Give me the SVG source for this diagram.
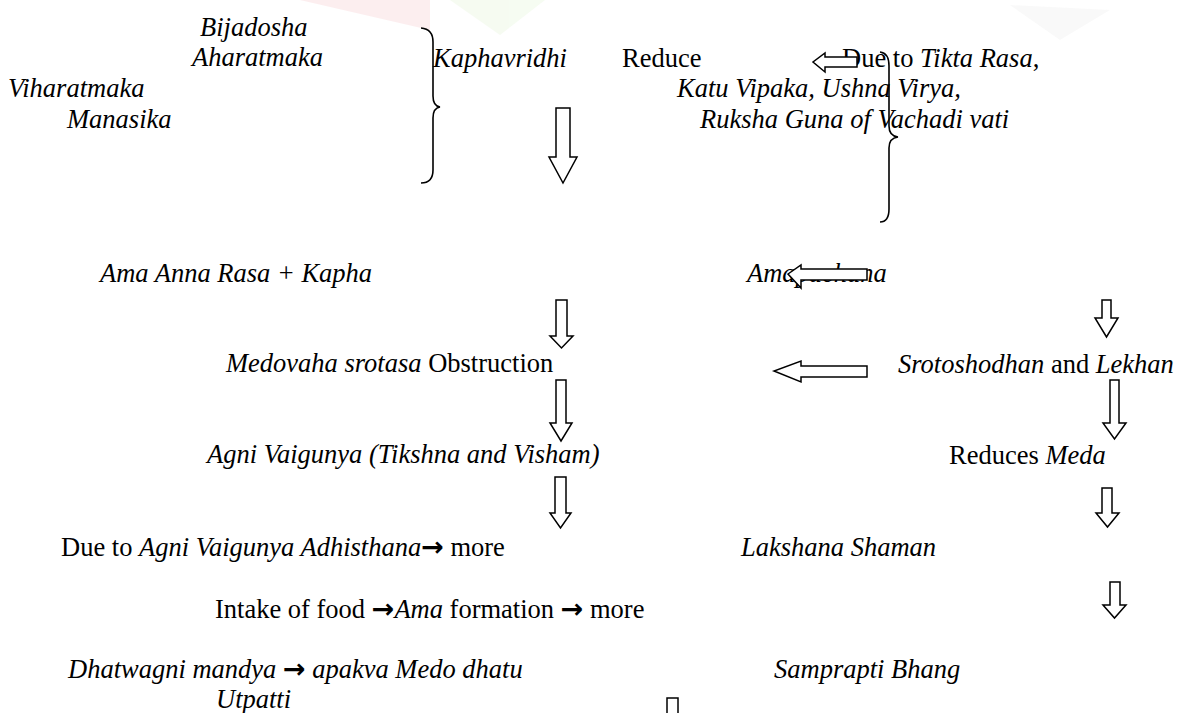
<svg xmlns="http://www.w3.org/2000/svg" width="1177" height="713" viewBox="0 0 1177 713">
<style>
text{font-family:"Liberation Serif","Times New Roman",serif;font-size:26.5px;fill:#000}
.i{font-style:italic}
.u{font-style:normal}
.ar{font-family:"DejaVu Sans",sans-serif;font-style:normal;font-weight:bold;font-size:27px}
.arr{fill:#fff;stroke:#000;stroke-width:1.5;stroke-linejoin:miter}
.br{fill:none;stroke:#000;stroke-width:1.6}
</style>
<rect width="1177" height="713" fill="#fff"/>
<g id="watermark" opacity="0.22">
<polygon points="300,0 430,0 430,30" fill="#f6b3b8"/>
<polygon points="450,0 545,0 500,35" fill="#d8f0c4"/>
<polygon points="1010,5 1110,10 1060,40" fill="#e2e2e2"/>
</g>
<g id="causes">
<text class="i" x="200" y="36">Bijadosha</text>
<text class="i" x="192" y="66">Aharatmaka</text>
<text class="i" x="8" y="97">Viharatmaka</text>
<text class="i" x="67" y="128">Manasika</text>
</g>
<g id="kaphavridhi"><text class="i" x="433" y="67">Kaphavridhi</text></g>
<g id="reduce"><text x="622" y="67">Reduce</text></g>
<g id="vachadi">
<text x="842" y="67">Due to <tspan class="i">Tikta Rasa</tspan>,</text>
<text class="i" x="677" y="97">Katu Vipaka, Ushna Virya,</text>
<text class="i" x="700" y="128">Ruksha Guna of Vachadi vati</text>
</g>
<g id="ama"><text class="i" x="100" y="282">Ama Anna Rasa + Kapha</text></g>
<g id="amapachana"><text class="i" x="747" y="282">Amapachana</text></g>
<g id="medovaha"><text x="226" y="372"><tspan class="i">Medovaha srotasa</tspan> Obstruction</text></g>
<g id="srotoshodhan"><text x="898" y="373"><tspan class="i">Srotoshodhan</tspan> and <tspan class="i">Lekhan</tspan></text></g>
<g id="agni"><text class="i" x="207" y="463">Agni Vaigunya (Tikshna and Visham)</text></g>
<g id="reduces-meda"><text x="949" y="464">Reduces <tspan class="i">Meda</tspan></text></g>
<g id="due-agni"><text x="61" y="556">Due to <tspan class="i">Agni Vaigunya Adhisthana</tspan><tspan class="ar">→</tspan> more</text></g>
<g id="lakshana"><text class="i" x="741" y="556">Lakshana Shaman</text></g>
<g id="intake"><text x="215" y="618">Intake of food <tspan class="ar">→</tspan><tspan class="i">Ama</tspan> formation <tspan class="ar">→</tspan> more</text></g>
<g id="dhatwagni">
<text class="i" x="68" y="678">Dhatwagni mandya <tspan class="ar">→</tspan> apakva Medo dhatu</text>
<text class="i" x="216" y="708">Utpatti</text>
</g>
<g id="samprapti"><text class="i" x="774" y="678">Samprapti Bhang</text></g>
<g id="connectors">
<path class="br" d="M421,28 Q433,29 433,42 L433,96 Q433,106 440,107 Q433,108 433,118 L433,170 Q433,183 421,183"/>
<path class="br" d="M880,52 Q889,53 889,66 L889,126 Q889,136 898,137 Q889,138 889,148 L889,209 Q889,222 880,222"/>
<polygon class="arr" points="556,108 570,108 570,157 577,157 563,183 549,157 556,157"/>
<polygon class="arr" points="556,300 567,300 567,336 573,336 561.5,348 550,336 556,336"/>
<polygon class="arr" points="556,380 566,380 566,423 572,423 561,441 550,423 556,423"/>
<polygon class="arr" points="555,477 566,477 566,513 571,513 560.5,528 550,513 555,513"/>
<polygon class="arr" points="1102,300 1111,300 1111,318 1118,318 1106.5,337 1095,318 1102,318"/>
<polygon class="arr" points="1110,380 1119,380 1119,423 1126,423 1114.5,439 1103,423 1110,423"/>
<polygon class="arr" points="1102,488 1112,488 1112,513 1119,513 1107.5,527 1096,513 1102,513"/>
<polygon class="arr" points="1110,582 1120,582 1120,605 1126,605 1114.5,618 1103,605 1110,605"/>
<polygon class="arr" points="857,57 857,67 825,67 825,72 813,62 825,53 825,57"/>
<polygon class="arr" points="867,269 867,280 801,280 801,288 788,274 801,265 801,269"/>
<polygon class="arr" points="867,366 867,377 801,377 801,382 774,371 801,361 801,366"/>
<rect class="arr" x="667" y="698" width="11" height="20"/>
</g>
</svg>
